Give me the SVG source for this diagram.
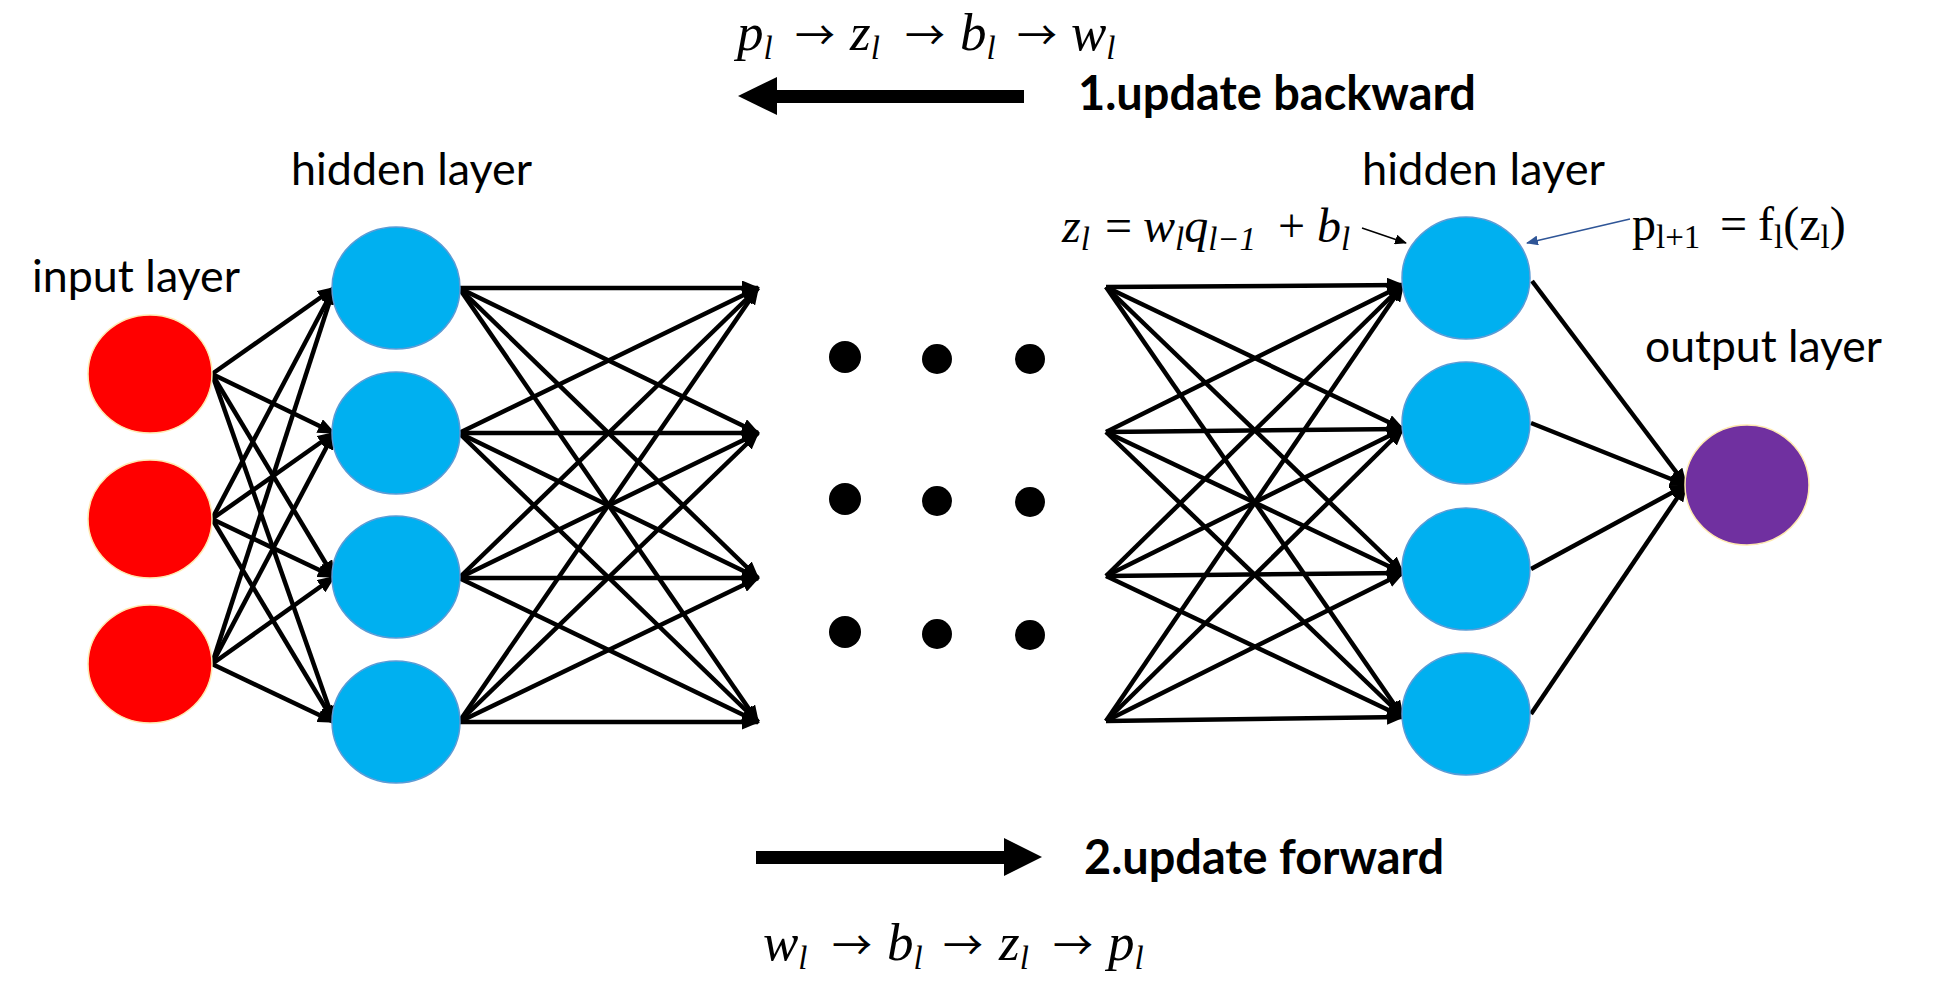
<svg xmlns="http://www.w3.org/2000/svg" width="1946" height="990" viewBox="0 0 1946 990">
<style>
.lbl{font-family:Lato,"Liberation Sans",sans-serif;font-size:45px;fill:#000}
.bold{font-family:Lato,"Liberation Sans",sans-serif;font-size:47px;font-weight:bold;fill:#000}
.m{font-family:"Liberation Serif",serif;font-style:italic;font-size:53px;fill:#000}
.mz{font-family:"Liberation Serif",serif;font-style:italic;font-size:48px;fill:#000}
.sub{font-size:33px}
.u{font-family:"Liberation Serif",serif;font-size:48px;fill:#000}
.ar{font-family:"Noto Sans CJK SC","DejaVu Sans",sans-serif;font-size:40px;fill:#000}
.red{fill:#FF0000;stroke:#FFE9B0;stroke-width:1.5}
.blue{fill:#00B0F0;stroke:#5B9BD5;stroke-width:1.5}
.purple{fill:#7030A0;stroke:#FFE9B0;stroke-width:1.5}
.c{stroke:#000;stroke-width:4.5;fill:none;marker-end:url(#ah)}
.dot{fill:#000}
</style>
<defs>
<marker id="ah" markerUnits="userSpaceOnUse" markerWidth="18" markerHeight="15" refX="16" refY="7.5" orient="auto"><path d="M0,0 L18,7.5 L0,15 Z" fill="#000"/></marker>
<marker id="ahs" markerUnits="userSpaceOnUse" markerWidth="12" markerHeight="10" refX="11" refY="5" orient="auto"><path d="M0,0 L12,5 L0,10 Z" fill="#000"/></marker>
<marker id="ahb" markerUnits="userSpaceOnUse" markerWidth="12" markerHeight="10" refX="11" refY="5" orient="auto"><path d="M0,0 L12,5 L0,10 Z" fill="#2F5597"/></marker>
</defs>
<rect width="1946" height="990" fill="#fff"/>

<g id="connectors">
<line class="c" x1="212" y1="374" x2="334" y2="288"/>
<line class="c" x1="212" y1="374" x2="334" y2="433"/>
<line class="c" x1="212" y1="374" x2="334" y2="577"/>
<line class="c" x1="212" y1="374" x2="334" y2="722"/>
<line class="c" x1="212" y1="519" x2="334" y2="288"/>
<line class="c" x1="212" y1="519" x2="334" y2="433"/>
<line class="c" x1="212" y1="519" x2="334" y2="577"/>
<line class="c" x1="212" y1="519" x2="334" y2="722"/>
<line class="c" x1="212" y1="664" x2="334" y2="288"/>
<line class="c" x1="212" y1="664" x2="334" y2="433"/>
<line class="c" x1="212" y1="664" x2="334" y2="577"/>
<line class="c" x1="212" y1="664" x2="334" y2="722"/>

<line class="c" x1="459" y1="288" x2="758" y2="288"/>
<line class="c" x1="459" y1="288" x2="758" y2="433"/>
<line class="c" x1="459" y1="288" x2="758" y2="578"/>
<line class="c" x1="459" y1="288" x2="758" y2="722"/>
<line class="c" x1="459" y1="433" x2="758" y2="288"/>
<line class="c" x1="459" y1="433" x2="758" y2="433"/>
<line class="c" x1="459" y1="433" x2="758" y2="578"/>
<line class="c" x1="459" y1="433" x2="758" y2="722"/>
<line class="c" x1="459" y1="578" x2="758" y2="288"/>
<line class="c" x1="459" y1="578" x2="758" y2="433"/>
<line class="c" x1="459" y1="578" x2="758" y2="578"/>
<line class="c" x1="459" y1="578" x2="758" y2="722"/>
<line class="c" x1="459" y1="722" x2="758" y2="288"/>
<line class="c" x1="459" y1="722" x2="758" y2="433"/>
<line class="c" x1="459" y1="722" x2="758" y2="578"/>
<line class="c" x1="459" y1="722" x2="758" y2="722"/>

<line class="c" x1="1106" y1="287" x2="1403" y2="285"/>
<line class="c" x1="1106" y1="287" x2="1403" y2="429"/>
<line class="c" x1="1106" y1="287" x2="1403" y2="573"/>
<line class="c" x1="1106" y1="287" x2="1403" y2="717"/>
<line class="c" x1="1106" y1="432" x2="1403" y2="285"/>
<line class="c" x1="1106" y1="432" x2="1403" y2="429"/>
<line class="c" x1="1106" y1="432" x2="1403" y2="573"/>
<line class="c" x1="1106" y1="432" x2="1403" y2="717"/>
<line class="c" x1="1106" y1="576" x2="1403" y2="285"/>
<line class="c" x1="1106" y1="576" x2="1403" y2="429"/>
<line class="c" x1="1106" y1="576" x2="1403" y2="573"/>
<line class="c" x1="1106" y1="576" x2="1403" y2="717"/>
<line class="c" x1="1106" y1="721" x2="1403" y2="285"/>
<line class="c" x1="1106" y1="721" x2="1403" y2="429"/>
<line class="c" x1="1106" y1="721" x2="1403" y2="573"/>
<line class="c" x1="1106" y1="721" x2="1403" y2="717"/>

<line class="c" x1="1532" y1="281" x2="1686" y2="485"/>
<line class="c" x1="1531" y1="423" x2="1686" y2="485"/>
<line class="c" x1="1531" y1="569" x2="1686" y2="485"/>
<line class="c" x1="1531" y1="714" x2="1686" y2="485"/>

<line x1="1362" y1="228" x2="1406" y2="243" stroke="#000" stroke-width="1.5" marker-end="url(#ahs)"/>
<line x1="1630" y1="219" x2="1527" y2="243" stroke="#2F5597" stroke-width="1.5" marker-end="url(#ahb)"/>
</g>

<g id="input-nodes">
<ellipse id="in1" class="red" cx="150" cy="374" rx="62" ry="59"/>
<ellipse id="in2" class="red" cx="150" cy="519" rx="62" ry="59"/>
<ellipse id="in3" class="red" cx="150" cy="664" rx="62" ry="59"/>
</g>
<g id="hidden1-nodes">
<ellipse id="h1a" class="blue" cx="396" cy="288" rx="64" ry="61"/>
<ellipse id="h1b" class="blue" cx="396" cy="433" rx="64" ry="61"/>
<ellipse id="h1c" class="blue" cx="396" cy="577" rx="64" ry="61"/>
<ellipse id="h1d" class="blue" cx="396" cy="722" rx="64" ry="61"/>
</g>
<g id="hidden2-nodes">
<ellipse id="h2a" class="blue" cx="1466" cy="278" rx="64" ry="61"/>
<ellipse id="h2b" class="blue" cx="1466" cy="423" rx="64" ry="61"/>
<ellipse id="h2c" class="blue" cx="1466" cy="569" rx="64" ry="61"/>
<ellipse id="h2d" class="blue" cx="1466" cy="714" rx="64" ry="61"/>
</g>
<g id="output-node">
<ellipse id="out" class="purple" cx="1747" cy="485" rx="62" ry="60"/>
</g>

<g id="dots">
<circle class="dot" cx="845" cy="357" r="16"/>
<circle class="dot" cx="937" cy="359" r="15"/>
<circle class="dot" cx="1030" cy="359" r="15"/>
<circle class="dot" cx="845" cy="499" r="16"/>
<circle class="dot" cx="937" cy="501" r="15"/>
<circle class="dot" cx="1030" cy="502" r="15"/>
<circle class="dot" cx="845" cy="632" r="16"/>
<circle class="dot" cx="937" cy="634" r="15"/>
<circle class="dot" cx="1030" cy="635" r="15"/>
</g>

<g id="labels">
<text class="lbl" x="291" y="185" textLength="241" lengthAdjust="spacingAndGlyphs">hidden layer</text>
<text class="lbl" x="32" y="292" textLength="208" lengthAdjust="spacingAndGlyphs">input layer</text>
<text class="lbl" x="1362" y="185" textLength="243" lengthAdjust="spacingAndGlyphs">hidden layer</text>
<text class="lbl" x="1645" y="362" textLength="237" lengthAdjust="spacingAndGlyphs">output layer</text>
<text class="bold" x="1078" y="110" textLength="398" lengthAdjust="spacingAndGlyphs">1.update backward</text>
<text class="bold" x="1084" y="874" textLength="360" lengthAdjust="spacingAndGlyphs">2.update forward</text>
</g>

<g id="backward-arrow">
<rect x="775" y="90" width="249" height="13" fill="#000"/>
<polygon points="738,96 777,77 777,115" fill="#000"/>
</g>
<g id="forward-arrow">
<rect x="756" y="851" width="250" height="13" fill="#000"/>
<polygon points="1042,857 1004,838 1004,876" fill="#000"/>
</g>

<g id="math-backward">
<text class="m" x="737" y="50">p<tspan class="sub" dy="9">l</tspan></text>
<text class="ar" x="795" y="50">→</text>
<text class="m" x="850" y="50">z<tspan class="sub" dy="9">l</tspan></text>
<text class="ar" x="905" y="50">→</text>
<text class="m" x="960" y="50">b<tspan class="sub" dy="9">l</tspan></text>
<text class="ar" x="1017" y="50">→</text>
<text class="m" x="1071" y="50">w<tspan class="sub" dy="9">l</tspan></text>
</g>

<g id="math-forward">
<text class="m" x="763" y="960">w<tspan class="sub" dy="9">l</tspan></text>
<text class="ar" x="832" y="960">→</text>
<text class="m" x="887" y="960">b<tspan class="sub" dy="9">l</tspan></text>
<text class="ar" x="943" y="960">→</text>
<text class="m" x="999" y="960">z<tspan class="sub" dy="9">l</tspan></text>
<text class="ar" x="1053" y="960">→</text>
<text class="m" x="1108" y="960">p<tspan class="sub" dy="9">l</tspan></text>
</g>

<g id="formula-z">
<text class="mz" x="1062" y="242">z<tspan class="sub" dy="8">l</tspan></text>
<text class="u" x="1105" y="242">=</text>
<text class="mz" x="1143" y="242">w<tspan class="sub" dy="8">l</tspan><tspan dy="-8">q</tspan><tspan class="sub" dy="8">l−1</tspan></text>
<text class="u" x="1278" y="242">+</text>
<text class="mz" x="1317" y="242">b<tspan class="sub" dy="8">l</tspan></text>
</g>

<g id="formula-p">
<text class="u" x="1632" y="240">p<tspan class="sub" dy="8">l+1</tspan></text>
<text class="u" x="1720" y="240">=</text>
<text class="u" x="1758" y="240">f<tspan class="sub" dy="8">l</tspan><tspan dy="-8">(z</tspan><tspan class="sub" dy="8">l</tspan><tspan dy="-8">)</tspan></text>
</g>
</svg>
